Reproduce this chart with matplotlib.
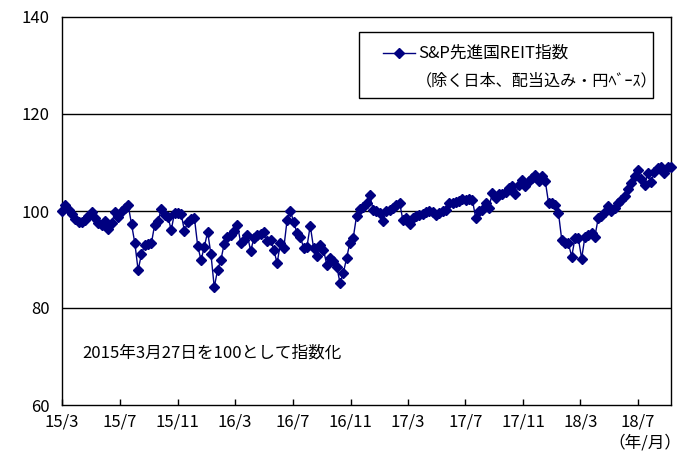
import matplotlib
matplotlib.use("Agg")
import matplotlib.pyplot as plt
import pandas as pd
from matplotlib.lines import Line2D
from matplotlib.patches import Rectangle

plt.rcParams["font.family"] = ["Noto Sans CJK JP", "DejaVu Sans"]

W, H = 684, 461
NAVY = "#000080"

# S&P先進国REIT指数（除く日本、配当込み・円ベース）, 週次, 2015/3/27 = 100
reit_index = [
    100.0, 101.2, 100.2, 99.3, 98.3, 97.7, 97.7, 98.2, 99.0, 99.7,
    98.6, 97.6, 97.2, 97.9, 96.2, 97.5, 99.8, 98.8, 100.0, 100.6,
    101.2, 97.3, 93.4, 87.8, 91.1, 93.0, 93.2, 93.3, 97.2, 97.9,
    100.4,
    99.2, 98.8, 96.1, 99.6, 99.6, 99.4, 95.9, 97.7, 98.3, 98.6,
    92.8, 89.9, 92.6, 95.7, 91.1, 84.3, 87.8, 89.9, 93.2, 94.6,
    95.1, 95.8, 97.1, 93.4, 94.0, 95.0, 91.8, 94.4, 95.0,
    95.3, 95.7, 93.8, 94.0, 92.0, 89.2, 93.5, 92.3, 98.1, 100.0,
    97.8, 95.4, 94.7, 92.4, 92.6, 97.0, 92.4, 90.8, 93.0, 92.0,
    88.9, 90.4, 89.7, 88.5, 85.2, 87.2, 90.4, 93.5, 94.5, 99.0,
    100.4, 100.9, 101.6, 103.2,
    100.3, 99.9, 99.5, 98.0, 99.9, 100.2, 100.6, 101.2, 101.7, 98.1,
    98.5, 97.3, 98.5, 99.0, 99.2, 99.4, 99.7, 100.1, 99.7, 99.2,
    99.5, 100.0, 100.3, 101.7, 101.7, 101.9, 102.1, 102.4, 102.3, 102.4,
    102.3, 98.5,
    99.9, 100.3, 101.7, 100.6, 103.8, 102.6, 103.5, 103.6, 104.0, 104.7,
    105.2, 103.6, 105.4, 106.4, 105.2, 106.2, 106.9, 107.4, 106.2, 107.2,
    106.2, 101.7, 101.6, 101.2, 99.6, 94.0, 93.5, 93.3, 90.6, 94.4,
    94.4, 90.2,
    94.7, 95.1, 95.5, 94.7, 98.5, 99.0, 99.7, 101.0, 99.9, 100.6,
    101.6, 102.3, 103.1, 104.5, 105.7, 107.2, 108.5, 106.7, 105.4, 107.9,
    106.0, 108.1, 108.8, 109.1, 107.8, 109.0, 109.1,
]

tick_dates = ["2015-03-27", "2015-07-27", "2015-11-27", "2016-03-27",
              "2016-07-27", "2016-11-27", "2017-03-27", "2017-07-27",
              "2017-11-27", "2018-03-27", "2018-07-27"]
tick_labels = ["15/3", "15/7", "15/11", "16/3", "16/7", "16/11",
               "17/3", "17/7", "17/11", "18/3", "18/7"]
y_ticks = [60, 80, 100, 120, 140]


def px(x, y):
    # 画素座標 -> figure 座標
    return x / W, 1 - y / H


dates = pd.date_range("2015-03-27", periods=len(reit_index), freq="7D")

fig = plt.figure(figsize=(W / 100, H / 100), dpi=100)
ax = fig.add_axes([62 / W, 1 - 405 / H, (671 - 62) / W, (405 - 17) / H])

for y in y_ticks[1:-1]:
    ax.axhline(y, color="black", lw=1, zorder=1)

ax.plot(dates, reit_index, color=NAVY, lw=1, marker="D", ms=4.6,
        mfc=NAVY, mec=NAVY, zorder=3, clip_on=False)

ax.set_xlim(dates[0], dates[-1])
ax.set_ylim(60, 140)
ax.set_yticks(y_ticks)
ax.set_xticks(pd.to_datetime(tick_dates))
ax.set_xticklabels(tick_labels)
ax.tick_params(axis="x", direction="in", length=4, width=1, pad=6, labelsize=12)
ax.tick_params(axis="y", length=0, pad=9, labelsize=12)
for s in ax.spines.values():
    s.set_linewidth(1)
    s.set_color("black")

# 凡例
x0, y0 = px(359, 98)
x1, y1 = px(653, 32)
fig.add_artist(Rectangle((x0, y0), x1 - x0, y1 - y0, transform=fig.transFigure,
                         facecolor="white", edgecolor="black", lw=1, zorder=5))
lx0, ly = px(383, 53)
lx1, _ = px(415, 53)
fig.add_artist(Line2D([lx0, lx1], [ly, ly], transform=fig.transFigure,
                      color=NAVY, lw=1, zorder=6))
mx, _ = px(399, 53)
fig.add_artist(Line2D([mx], [ly], transform=fig.transFigure, color=NAVY,
                      marker="D", ms=4.6, zorder=6))
tx, ty = px(418, 53)
fig.text(tx, ty, "S&P先進国REIT指数", fontsize=12, va="center", ha="left", zorder=7)
tx, ty = px(416, 81)
fig.text(tx, ty, "（除く日本、配当込み・円ﾍﾞｰｽ）", fontsize=11.6, va="center", ha="left", zorder=7)

tx, ty = px(82, 353)
fig.text(tx, ty, "2015年3月27日を100として指数化", fontsize=12, va="center", ha="left")
tx, ty = px(681, 443)
fig.text(tx, ty, "（年/月）", fontsize=12, va="center", ha="right")

fig.savefig("out.png", dpi=100)
